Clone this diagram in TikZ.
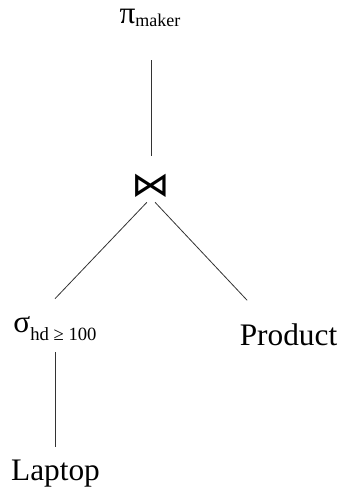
\documentclass[tikz,border=0pt]{standalone}
\usepackage{fontspec}
\setmainfont{Liberation Serif}
\newfontfamily\symfont{DejaVu Sans}
\begin{document}
\begin{tikzpicture}[
    x=0.75pt, y=-0.75pt,
    op/.style={inner sep=0pt, font=\fontsize{23.5}{28}\selectfont},
    rel/.style={op, anchor=base},
    edge/.style={line width=0.6pt, black!80},
]
\useasboundingbox (0,0) rectangle (344,493);

% Operators
\node[rel] (proj) at (150,23) {π\raisebox{-2.25pt}{\fontsize{13.5}{16}\selectfont maker}};
\node[op, font=\symfont\fontsize{29}{32}\selectfont] (join) at (151,186) {\scalebox{1}[0.88]{⋈}};
\node[rel] (sel) at (55,332) {σ\raisebox{-6pt}{\fontsize{14}{16}\selectfont hd ≥ 100}};

% Relations
\node[rel] (prod) at (288.5,345) {Product};
\node[rel] (lap) at (55.5,480) {Laptop};

% Edges
\draw[edge, shorten <=25.5pt, shorten >=13.5pt] (join.north |- proj.south) -- (join.north);
\draw[edge, shorten <=4.5pt] (join.south) -- ([yshift=12.75pt]sel.north);
\draw[edge, shorten <=4.5pt] (join.south) -- ([xshift=-31pt, yshift=17pt]prod.north);
\draw[edge, shorten <=9pt, shorten >=9pt] (sel.south -| lap.north) -- (lap.north);

\end{tikzpicture}
\end{document}
